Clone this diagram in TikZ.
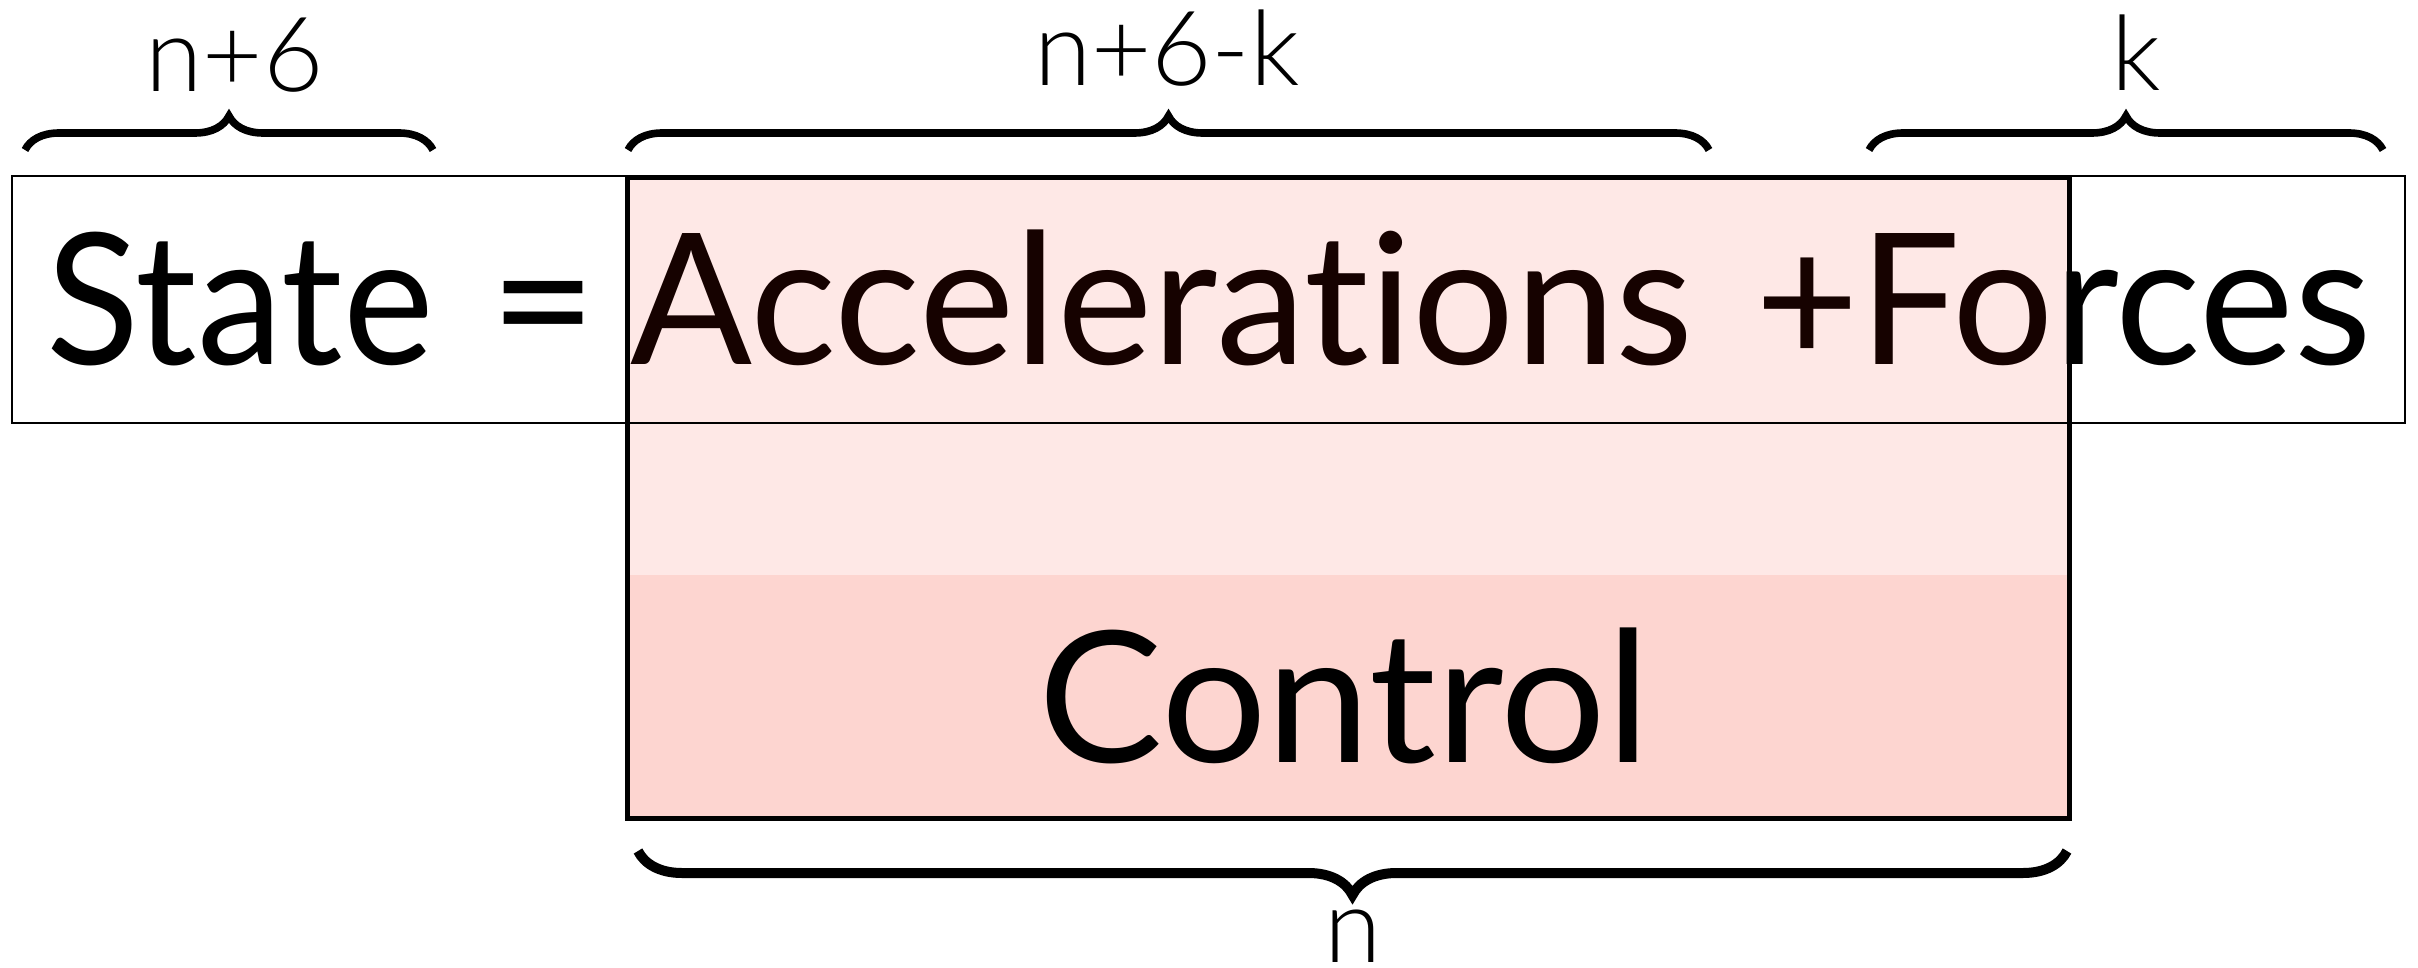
\documentclass[tikz,border=0pt]{standalone}
\usepackage{fontspec}
\usepackage{graphicx}
\setmainfont{Lato}[Ligatures=NoCommon]
\newfontfamily\lightfont{Lato Light}[Ligatures=NoCommon]
\usetikzlibrary{decorations.pathreplacing}

\definecolor{pinklight}{RGB}{254,232,230}
\definecolor{pinkdark}{RGB}{253,213,208}
\definecolor{inkbrown}{RGB}{22,2,0}

% squeeze a word horizontally to a given width, keeping its height
\newcommand{\fitto}[2]{\resizebox{#1}{\height}{#2}}

\begin{document}
\begin{tikzpicture}[x=0.5pt,y=-0.5pt,
  bigtext/.style={inner sep=0pt, anchor=base west, font=\fontsize{91.4}{100}\selectfont},
  dimlabel/.style={inner sep=0pt, anchor=base, font=\lightfont\fontsize{52}{60}\selectfont},
  bracetop/.style={decorate, decoration={brace, amplitude=17pt}, line width=3.8pt},
  bracebot/.style={decorate, decoration={brace, amplitude=22pt, mirror}, line width=5pt},
  thinframe/.style={line width=1pt},
  thickframe/.style={line width=2.5pt},
]
\useasboundingbox (0,0) rectangle (2418,968);

% corners of the state row and of the highlighted block
\coordinate (rowtl) at (12,176);
\coordinate (rowbr) at (2405,423);
\coordinate (blktl) at (627,178);
\coordinate (blksplitr) at (2069,575);
\coordinate (blksplitl) at (627,575);
\coordinate (blkbr) at (2069,818);

% block fills: upper part and the control part
\fill[pinklight] (blktl) rectangle (blksplitr);
\fill[pinkdark] (blksplitl) rectangle (blkbr);

% state row frame
\draw[thinframe] (rowtl) rectangle (rowbr);

% row text
\node[bigtext] (state) at (46,364.5) {\fitto{193.5pt}{State}};
\node[bigtext, anchor=base] (eq) at (543.5,364.5) {=};
\node[bigtext, text=inkbrown] (acc) at (630,364.5) {\fitto{531.5pt}{Accelerations}};
\node[bigtext] (forces) at (1755,364.5) {\fitto{308pt}{\textcolor{inkbrown}{+Fo}rces}};
\node[bigtext] (control) at (1038,762) {\fitto{306pt}{Control}};

% block frame
\draw[thickframe] (blktl) rectangle (blkbr);

% braces above the row
\coordinate (b1l) at (25,150);
\coordinate (b1r) at (433,150);
\coordinate (b2l) at (628,150);
\coordinate (b2r) at (1709,150);
\coordinate (b3l) at (1869,150);
\coordinate (b3r) at (2383,150);
\draw[bracetop] (b1l) -- (b1r);
\draw[bracetop] (b2l) -- (b2r);
\draw[bracetop] (b3l) -- (b3r);

% brace below the block
\coordinate (b4l) at (638,851);
\coordinate (b4r) at (2067,851);
\draw[bracebot] (b4l) -- (b4r);

% size labels
\node[dimlabel] (lab1) at (234.5,92) {n+6};
\node[dimlabel] (lab2) at (1167,86) {n+6-k};
\node[dimlabel] (lab3) at (2136,91) {k};
\node[dimlabel] (lab4) at (1353,962) {n};
\end{tikzpicture}
\end{document}
